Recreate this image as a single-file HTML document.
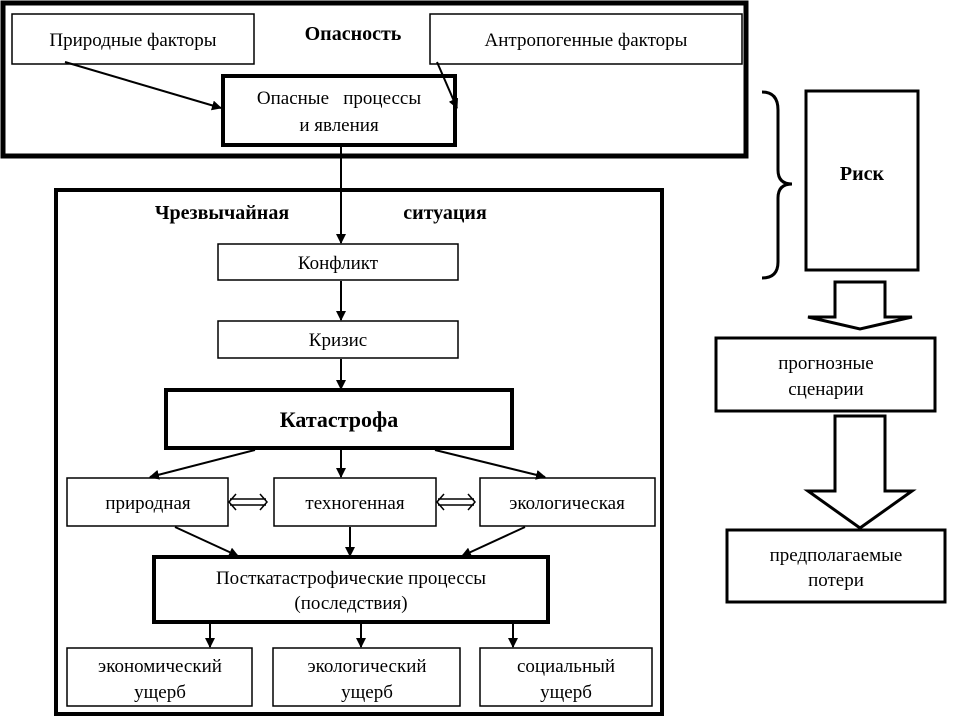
<!DOCTYPE html>
<html><head><meta charset="utf-8"><style>body{margin:0;background:#fff}</style></head><body>
<svg width="958" height="720" viewBox="0 0 958 720" xmlns="http://www.w3.org/2000/svg" font-family="Liberation Serif, serif" font-size="19">
<defs><marker id="a" markerWidth="10" markerHeight="10" refX="9" refY="5" orient="auto" markerUnits="userSpaceOnUse"><path d="M0,0 L10,5 L0,10 z" fill="#000"/></marker></defs>
<g fill="none" stroke="#000">
<rect x="3" y="3" width="743" height="153" stroke-width="5"/>
<rect x="12" y="14" width="242" height="50" stroke-width="1.5"/>
<rect x="430" y="14" width="312" height="50" stroke-width="1.5"/>
<rect x="223" y="76" width="232" height="69" stroke-width="4"/>
<rect x="56" y="190" width="606" height="524" stroke-width="4"/>
<rect x="218" y="244" width="240" height="36" stroke-width="1.5"/>
<rect x="218" y="321" width="240" height="37" stroke-width="1.5"/>
<rect x="166" y="390" width="346" height="58" stroke-width="4"/>
<rect x="67" y="478" width="161" height="48" stroke-width="1.5"/>
<rect x="274" y="478" width="162" height="48" stroke-width="1.5"/>
<rect x="480" y="478" width="175" height="48" stroke-width="1.5"/>
<rect x="154" y="557" width="394" height="65" stroke-width="4"/>
<rect x="67" y="648" width="185" height="58" stroke-width="1.5"/>
<rect x="273" y="648" width="187" height="58" stroke-width="1.5"/>
<rect x="480" y="648" width="172" height="58" stroke-width="1.5"/>
<rect x="806" y="91" width="112" height="179" stroke-width="3"/>
<rect x="716" y="338" width="219" height="73" stroke-width="3"/>
<rect x="727" y="530" width="218" height="72" stroke-width="3"/>
<path d="M762,92 Q778,92 778,110 L778,170 Q778,184 792,184 Q778,184 778,198 L778,262 Q778,278 762,278" stroke-width="3"/>
<path d="M835,282 H885 V317 H912 L860,329 L808,317 H835 Z" stroke-width="3"/>
<path d="M835,416 H885 V491 H912 L860,528 L808,491 H835 Z" stroke-width="3"/>
<g stroke-width="2" marker-end="url(#a)">
<line x1="65" y1="62" x2="221" y2="108"/>
<line x1="437" y1="62" x2="457" y2="108"/>
<line x1="341" y1="147" x2="341" y2="243"/>
<line x1="341" y1="281" x2="341" y2="320"/>
<line x1="341" y1="359" x2="341" y2="389"/>
<line x1="255" y1="450" x2="150" y2="477"/>
<line x1="341" y1="450" x2="341" y2="477"/>
<line x1="435" y1="450" x2="545" y2="477"/>
<line x1="175" y1="527" x2="238" y2="556"/>
<line x1="350" y1="527" x2="350" y2="556"/>
<line x1="525" y1="527" x2="462" y2="556"/>
<line x1="210" y1="623" x2="210" y2="647"/>
<line x1="361" y1="623" x2="361" y2="647"/>
<line x1="513" y1="623" x2="513" y2="647"/>
</g>
<g stroke-width="1.5">
<path d="M230,499 H266 M230,505 H266 M236,494 L229,502 L236,510 M260,494 L267,502 L260,510"/>
<path d="M438,499 H474 M438,505 H474 M444,494 L437,502 L444,510 M468,494 L475,502 L468,510"/>
</g>
</g>
<g text-anchor="middle" fill="#000">
<text x="133" y="46">Природные факторы</text>
<text x="586" y="46">Антропогенные факторы</text>
<text x="353" y="40" font-weight="bold" font-size="20">Опасность</text>
<text x="339" y="104" xml:space="preserve">Опасные   процессы</text>
<text x="339" y="131">и явления</text>
<text x="222" y="219" font-weight="bold" font-size="20">Чрезвычайная</text>
<text x="445" y="219" font-weight="bold" font-size="20">ситуация</text>
<text x="338" y="269">Конфликт</text>
<text x="338" y="346">Кризис</text>
<text x="339" y="427" font-weight="bold" font-size="22">Катастрофа</text>
<text x="148" y="509">природная</text>
<text x="355" y="509">техногенная</text>
<text x="567" y="509">экологическая</text>
<text x="351" y="584">Посткатастрофические процессы</text>
<text x="351" y="609">(последствия)</text>
<text x="160" y="672">экономический</text>
<text x="160" y="698">ущерб</text>
<text x="367" y="672">экологический</text>
<text x="367" y="698">ущерб</text>
<text x="566" y="672">социальный</text>
<text x="566" y="698">ущерб</text>
<text x="862" y="180" font-weight="bold" font-size="20">Риск</text>
<text x="826" y="369">прогнозные</text>
<text x="826" y="395">сценарии</text>
<text x="836" y="561">предполагаемые</text>
<text x="836" y="586">потери</text>
</g>
</svg>
</body></html>
